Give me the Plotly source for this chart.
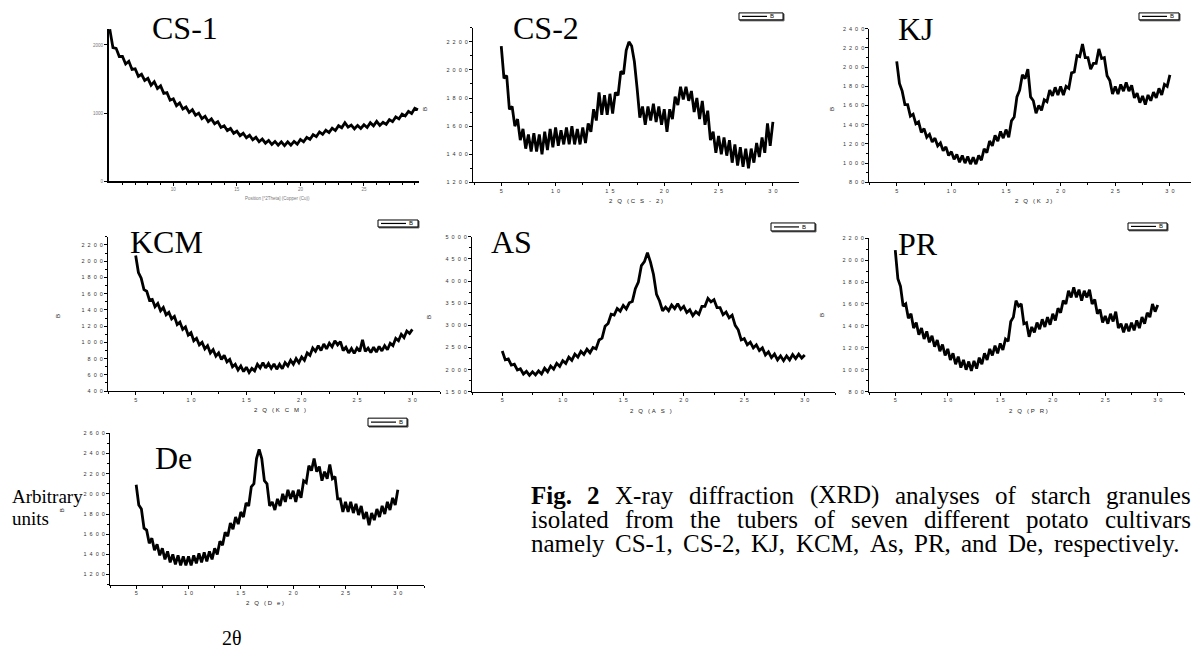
import plotly.graph_objects as go

W, H = 1191, 654

# ---------------- data ----------------
TWO_THETA = [5.0, 5.25, 5.5, 5.75, 6.0, 6.25, 6.5, 6.75, 7.0, 7.25, 7.5, 7.75, 8.0, 8.25, 8.5, 8.75,
             9.0, 9.25, 9.5, 9.75, 10.0, 10.25, 10.5, 10.75, 11.0, 11.25, 11.5, 11.75, 12.0, 12.25,
             12.5, 12.75, 13.0, 13.25, 13.5, 13.75, 14.0, 14.25, 14.5, 14.75, 15.0, 15.25, 15.5,
             15.75, 16.0, 16.25, 16.5, 16.75, 17.0, 17.25, 17.5, 17.75, 18.0, 18.25, 18.5, 18.75,
             19.0, 19.25, 19.5, 19.75, 20.0, 20.25, 20.5, 20.75, 21.0, 21.25, 21.5, 21.75, 22.0,
             22.25, 22.5, 22.75, 23.0, 23.25, 23.5, 23.75, 24.0, 24.25, 24.5, 24.75, 25.0, 25.25,
             25.5, 25.75, 26.0, 26.25, 26.5, 26.75, 27.0, 27.25, 27.5, 27.75, 28.0, 28.25, 28.5,
             28.75, 29.0, 29.25, 29.5, 29.75, 30.0]

CS1 = [2230, 1960, 1950, 1830, 1830, 1720, 1760, 1640, 1650, 1540,
       1570, 1480, 1510, 1410, 1460, 1360, 1400, 1290, 1300, 1190,
       1210, 1110, 1150, 1060, 1090, 1010, 1050, 970, 1000, 920,
       955, 875, 915, 845, 875, 790, 815, 745, 775, 705,
       735, 670, 705, 640, 675, 610, 645, 580, 620, 560,
       600, 540, 585, 530, 580, 525, 580, 530, 585, 545,
       615, 580, 645, 615, 685, 655, 725, 690, 750, 715,
       780, 745, 815, 785, 860, 795, 825, 770, 820, 775,
       830, 790, 860, 815, 880, 820, 865, 835, 905, 875,
       945, 915, 985, 960, 1025, 995, 1070, 1050]

CS2 = [2170, 1940, 1960, 1720, 1740, 1600, 1650, 1500, 1580, 1440,
       1540, 1420, 1550, 1420, 1540, 1400, 1560, 1430, 1580, 1450,
       1590, 1460, 1570, 1470, 1590, 1470, 1600, 1470, 1580, 1470,
       1590, 1480, 1620, 1560, 1720, 1640, 1840, 1680, 1820, 1680,
       1830, 1690, 1840, 1820, 1990, 1970, 2140, 2200, 2170, 2060,
       1870, 1660, 1740, 1610, 1740, 1640, 1760, 1630, 1740, 1610,
       1720, 1560, 1720, 1650, 1810, 1750, 1880, 1790, 1880, 1780,
       1850, 1700, 1800, 1650, 1780, 1610, 1710, 1500, 1560, 1410,
       1530, 1400, 1520, 1390, 1500, 1340, 1470, 1320, 1450, 1310,
       1440, 1300, 1440, 1340, 1480, 1380, 1520, 1410, 1620, 1460, 1630]

KJ = [2060, 1830, 1750, 1610, 1610, 1490, 1510, 1410, 1430, 1320,
      1360, 1270, 1300, 1220, 1260, 1180, 1210, 1130, 1170, 1080,
      1120, 1040, 1090, 1010, 1080, 1000, 1070, 990, 1060, 990,
      1080, 1030, 1150, 1110, 1230, 1180, 1290, 1230, 1330, 1260,
      1350, 1270, 1440, 1480, 1690, 1760, 1920, 1880, 1980, 1690,
      1650, 1520, 1600, 1550, 1660, 1640, 1760, 1700, 1790, 1710,
      1800, 1710, 1800, 1780, 1940, 1950, 2120, 2110, 2240, 2100,
      2100, 1980, 2040, 2040, 2190, 2090, 2100, 1910, 1860, 1720,
      1800, 1720, 1820, 1750, 1840, 1750, 1810, 1680, 1730, 1630,
      1700, 1610, 1710, 1650, 1740, 1680, 1780, 1710, 1820, 1800, 1920]

KCM = [2070, 1860, 1790, 1650, 1630, 1520, 1530, 1440, 1480, 1390,
       1430, 1340, 1370, 1290, 1320, 1220, 1250, 1160, 1190, 1090,
       1120, 1020, 1050, 970, 1000, 920, 960, 870, 910, 830,
       870, 790, 840, 760, 790, 700, 730, 660, 710, 640,
       695, 630, 680, 650, 730, 685, 750, 685, 740, 680,
       735, 670, 730, 675, 750, 710, 780, 730, 800, 750,
       820, 780, 870, 840, 930, 890, 960, 900, 980, 920,
       990, 945, 1020, 970, 1010, 900, 940, 870, 925, 865,
       930, 890, 1030, 890, 930, 875, 940, 880, 950, 895,
       960, 910, 990, 960, 1050, 1020, 1100, 1060, 1140, 1110, 1160]

AS = [2420, 2220, 2240, 2100, 2120, 1990, 2020, 1900, 1960, 1870,
      1950, 1880, 1970, 1900, 2030, 1950, 2080, 2010, 2140, 2070,
      2200, 2140, 2280, 2210, 2350, 2280, 2410, 2340, 2460, 2380,
      2500, 2470, 2670, 2710, 2980, 3040, 3250, 3230, 3380, 3320,
      3450, 3370, 3510, 3540, 3830, 3980, 4350, 4440, 4640, 4430,
      4150, 3700, 3550, 3330, 3410, 3330, 3460, 3380, 3490, 3360,
      3430, 3290, 3350, 3220, 3310, 3250, 3430, 3430, 3610, 3530,
      3580, 3400, 3400, 3240, 3300, 3170, 3230, 3000, 2900, 2670,
      2700, 2560, 2620, 2490, 2560, 2430, 2490, 2330, 2400, 2270,
      2350, 2220, 2310, 2200, 2310, 2220, 2340, 2250, 2350, 2260, 2330]

PR = [2090, 1830, 1760, 1580, 1600, 1470, 1510, 1380, 1430, 1320,
      1380, 1280, 1350, 1250, 1310, 1210, 1270, 1170, 1230, 1130,
      1190, 1090, 1150, 1050, 1120, 1020, 1090, 1000, 1075, 990,
      1080, 1010, 1110, 1050, 1150, 1090, 1190, 1130, 1220, 1150,
      1240, 1180, 1280, 1260, 1440, 1480, 1630, 1580, 1600, 1420,
      1430, 1300, 1390, 1340, 1430, 1370, 1460, 1390, 1480, 1410,
      1510, 1450, 1560, 1520, 1630, 1600, 1720, 1660, 1750, 1660,
      1730, 1630, 1720, 1660, 1730, 1600, 1640, 1510, 1550, 1430,
      1490, 1420, 1510, 1440, 1530, 1380, 1420, 1340, 1420, 1350,
      1430, 1360, 1450, 1380, 1480, 1420, 1520, 1480, 1600, 1530, 1590]

DE = [2090, 1890, 1850, 1660, 1640, 1510, 1560, 1440, 1500, 1390,
      1460, 1350, 1430, 1320, 1400, 1300, 1390, 1290, 1380, 1290,
      1380, 1290, 1390, 1310, 1410, 1320, 1420, 1330, 1430, 1350,
      1460, 1400, 1530, 1490, 1620, 1580, 1710, 1650, 1770, 1700,
      1820, 1770, 1910, 1880, 2070, 2100, 2350, 2440, 2350, 2130,
      2100, 1880, 1920, 1840, 1950, 1880, 2000, 1920, 2040, 1950,
      2030, 1920, 2040, 1960, 2130, 2110, 2280, 2230, 2350, 2220,
      2270, 2130, 2220, 2150, 2290, 2150, 2170, 1950, 1950, 1820,
      1920, 1820, 1920, 1810, 1900, 1790, 1880, 1750, 1820, 1690,
      1810, 1740, 1850, 1770, 1880, 1800, 1920, 1840, 1960, 1890, 2040]

X_TICKS = [5, 10, 15, 20, 25, 30]
X_TICKS_CS1 = [10, 15, 20, 25]
Y_TICKS_CS1 = [0, 1000, 2000]

# ---------------- helpers ----------------
def fx(p):
    return p / W


def fy(p):
    return 1 - p / H


NB = "\u00a0"


def spread_num(v):
    return (NB * 2).join(str(v))


def spread_title(t):
    out = []
    for c in t:
        out.append(NB * 2 if c == " " else c + NB)
    return "".join(out).rstrip(NB)


annotations = []
shapes = []


def ann(text, x, y, size, family="Liberation Serif", color="black", xanchor="center",
        yanchor="middle", angle=0):
    annotations.append(dict(text=text, x=fx(x), y=fy(y), xref="paper", yref="paper",
                            showarrow=False, xanchor=xanchor, yanchor=yanchor,
                            textangle=angle, borderpad=0,
                            font=dict(size=size, family=family, color=color)))


fig = go.Figure()

# ---------------- CS-1 (different instrument style) ----------------
fig.add_trace(go.Scatter(x=TWO_THETA[:len(CS1)], y=CS1, mode="lines",
                         line=dict(color="black", width=2.8), xaxis="x", yaxis="y",
                         showlegend=False, hoverinfo="skip"))
layout_axes = {}
layout_axes["xaxis"] = dict(domain=[fx(109), fx(419)], range=[4.94, 29.33], anchor="y",
                            showline=True, linecolor="black", linewidth=1.5, ticks="outside",
                            ticklen=3, tickcolor="black", tickwidth=1,
                            tickmode="array", tickvals=X_TICKS_CS1,
                            ticktext=[str(v) for v in X_TICKS_CS1],
                            tickfont=dict(size=4.5, family="Liberation Sans", color="#777"),
                            minor=dict(tickmode="array",
                                       tickvals=[v for v in range(6, 30) if v % 5 != 0],
                                       ticks="outside", ticklen=2, tickcolor="black"),
                            showgrid=False, zeroline=False)
layout_axes["yaxis"] = dict(domain=[fy(180), fy(26)], range=[0, 2237], anchor="x",
                            showline=True, linecolor="black", linewidth=2, ticks="outside",
                            ticklen=3, tickcolor="black", tickwidth=1,
                            tickmode="array", tickvals=Y_TICKS_CS1,
                            ticktext=[str(v) for v in Y_TICKS_CS1],
                            tickfont=dict(size=4.5, family="Liberation Sans", color="#777"),
                            showgrid=False, zeroline=False)
ann("Position [°2Theta] (Copper (Cu))", 277, 197, 4.5, "Liberation Sans", "#777")
ann("CS-1", 184.5, 25, 32)

# ---------------- Origin-style panels ----------------
panels = [
    dict(label="CS-2", y=CS2, box=(473, 799, 25, 181), xr=(2.4, 32.4), yr=(1200, 2300),
         ymaj=list(range(1200, 2201, 200)), ymin=list(range(1300, 2301, 200)),
         xt="2 Q (C S - 2)", xtc=636, bpos=(425, 107), leg=(739, 10, 783, 17), lab=(545.5, 25)),
    dict(label="KJ", y=KJ, box=(869.4, 1191, 26, 181), xr=(2.5, 31.93), yr=(800, 2400),
         ymaj=list(range(800, 2401, 200)), ymin=list(range(900, 2301, 200)),
         xt="2 Q (K J)", xtc=1033, bpos=(832, 107), leg=(1139, 10, 1179, 17), lab=(915.5, 26)),
    dict(label="KCM", y=KCM, box=(108, 440, 236, 391.7), xr=(2.5, 32.5), yr=(400, 2300),
         ymaj=list(range(400, 2201, 200)), ymin=list(range(500, 2301, 200)),
         xt="2 Q (K C M )", xtc=280, bpos=(58, 316), leg=(378, 219, 418, 226), lab=(166.5, 241.5)),
    dict(label="AS", y=AS, box=(472, 835, 236, 392.3), xr=(2.5, 32.5), yr=(1500, 5000),
         ymaj=list(range(1500, 5001, 500)), ymin=list(range(1750, 4751, 500)),
         xt="2 Q (A S )", xtc=651, bpos=(429, 317), leg=(771, 222, 815, 230), lab=(511, 241.5)),
    dict(label="PR", y=PR, box=(869, 1184, 237.3, 392.3), xr=(2.5, 32.5), yr=(800, 2200),
         ymaj=list(range(800, 2201, 200)), ymin=list(range(900, 2101, 200)),
         xt="2 Q (P R)", xtc=1028, bpos=(822, 315), leg=(1128, 222, 1167, 229), lab=(917.5, 243)),
    dict(label="De", y=DE, box=(110, 424, 434.3, 587), xr=(2.5, 32.5), yr=(1100, 2600),
         ymaj=list(range(1200, 2601, 200)), ymin=list(range(1100, 2501, 200)),
         xt="2 Q (D e)", xtc=265, bpos=(62, 512), leg=(368, 419, 407, 427), lab=(173.5, 459)),
]

tickfont = dict(size=5.5, family="Liberation Sans", color="#333")

for i, p in enumerate(panels, start=2):
    l, r, t, b = p["box"]
    fig.add_trace(go.Scatter(x=TWO_THETA, y=p["y"], mode="lines",
                             line=dict(color="black", width=2.8),
                             xaxis=f"x{i}", yaxis=f"y{i}", showlegend=False, hoverinfo="skip"))
    layout_axes[f"xaxis{i}"] = dict(
        domain=[fx(l), fx(r)], range=list(p["xr"]), anchor=f"y{i}",
        showline=True, linecolor="black", linewidth=1, ticks="outside", ticklen=3,
        tickcolor="black", tickwidth=1, tickmode="array", tickvals=X_TICKS,
        ticktext=[spread_num(v) for v in X_TICKS], tickfont=tickfont,
        minor=dict(tickmode="array", tickvals=[2.5, 7.5, 12.5, 17.5, 22.5, 27.5, 32.5],
                   ticks="outside", ticklen=2, tickcolor="black"),
        showgrid=False, zeroline=False)
    layout_axes[f"yaxis{i}"] = dict(
        domain=[fy(b), fy(t)], range=list(p["yr"]), anchor=f"x{i}",
        showline=True, linecolor="black", linewidth=1, ticks="outside", ticklen=3,
        tickcolor="black", tickwidth=1, tickmode="array", tickvals=p["ymaj"],
        ticktext=[spread_num(v) for v in p["ymaj"]], tickfont=tickfont,
        minor=dict(tickmode="array", tickvals=p["ymin"], ticks="outside", ticklen=2,
                   tickcolor="black"),
        showgrid=False, zeroline=False)
    # axis titles
    ann(spread_title(p["xt"]), p["xtc"], b + 19, 6, "Liberation Sans", "#222")
    ann("B", p["bpos"][0], p["bpos"][1], 6, "Liberation Sans", "#222", angle=-90)
    # panel label
    ann(p["label"], p["lab"][0], p["lab"][1], 32)
    # legend box (with a slight shadow on the right/bottom)
    lx0, ly0, lx1, ly1 = p["leg"]
    shapes.append(dict(type="rect", xref="paper", yref="paper", x0=fx(lx0 + 1), x1=fx(lx1 + 1),
                       y0=fy(ly1 + 1), y1=fy(ly0 + 1), line=dict(color="#555", width=1),
                       fillcolor="#555"))
    shapes.append(dict(type="rect", xref="paper", yref="paper", x0=fx(lx0), x1=fx(lx1),
                       y0=fy(ly1), y1=fy(ly0), line=dict(color="black", width=1),
                       fillcolor="white"))
    my = (ly0 + ly1) / 2
    shapes.append(dict(type="line", xref="paper", yref="paper", x0=fx(lx0 + 3), x1=fx(lx0 + 28),
                       y0=fy(my), y1=fy(my), line=dict(color="black", width=1.2)))
    ann("B", lx0 + 33, my, 6, "Liberation Sans", "black", xanchor="center")

# ---------------- side texts ----------------
ann("Arbitrary", 11, 498, 19, xanchor="left")
ann("units", 11, 520, 19, xanchor="left")
ann("2θ", 232, 641, 20)

# ---------------- caption (justified word by word) ----------------
TR = {"a": 444, "b": 500, "c": 444, "d": 500, "e": 444, "f": 333, "g": 500, "h": 500, "i": 278,
      "l": 278, "m": 778, "n": 500, "o": 500, "p": 500, "r": 333, "s": 389, "t": 278, "u": 500,
      "v": 500, "y": 500, "A": 722, "C": 667, "D": 722, "F": 556, "J": 389, "K": 722, "M": 889,
      "P": 556, "R": 667, "S": 556, "X": 722, "(": 333, ")": 333, "-": 333, ".": 250, ",": 250,
      "1": 500, "2": 500}
TB = {"F": 611, "i": 278, "g": 500, ".": 250, "2": 500}
CAP = 25
cap_lines = [
    (["Fig.", "2", "X-ray", "diffraction", "(XRD)", "analyses", "of", "starch", "granules"],
     530, 1190, 497, 2),
    (["isolated", "from", "the", "tubers", "of", "seven", "different", "potato", "cultivars"],
     530, 1190, 521, 0),
    (["namely", "CS-1,", "CS-2,", "KJ,", "KCM,", "As,", "PR,", "and", "De,", "respectively."],
     530, 1180, 545, 0),
]
for words, x0, x1, yc, nbold in cap_lines:
    widths = []
    for k, w in enumerate(words):
        tab = TB if k < nbold else TR
        widths.append(sum(tab.get(c, 500) for c in w) / 1000 * CAP)
    gap = (x1 - x0 - sum(widths)) / (len(words) - 1)
    xpos = x0
    for k, w in enumerate(words):
        txt = f"<b>{w}</b>" if k < nbold else w
        ann(txt, xpos, yc, CAP, xanchor="left")
        xpos += widths[k] + gap

fig.update_layout(width=W, height=H, margin=dict(l=0, r=0, t=0, b=0),
                  paper_bgcolor="white", plot_bgcolor="white", showlegend=False,
                  annotations=annotations, shapes=shapes, **layout_axes)

fig.write_html("out.html")
